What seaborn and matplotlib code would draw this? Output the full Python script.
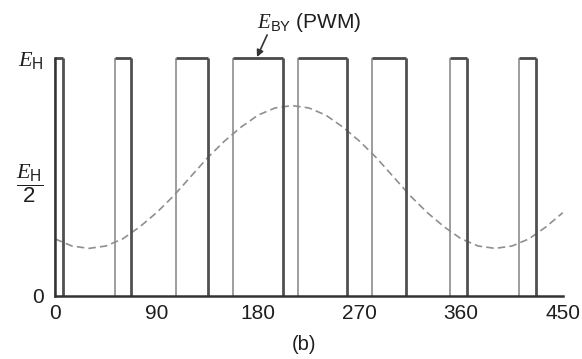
import matplotlib
matplotlib.use("Agg")
import matplotlib.pyplot as plt
import seaborn as sns
import pandas as pd
import numpy as np

# PWM pulse edges (degrees) and level (fraction of E_H)
rise = [0, 53, 107, 158, 215, 281, 350, 411]
fall = [7, 67, 136, 202, 259, 311, 365, 426]
level = 1.0

# Reference (dashed) waveform
ref_x = [0, 15, 30, 45, 60, 75, 90, 105, 120, 135, 150, 165, 180, 195, 210, 225,
         240, 255, 270, 285, 300, 315, 330, 345, 360, 375, 390, 405, 420, 435, 450]
ref_y = [0.24, 0.21, 0.20, 0.21, 0.24, 0.29, 0.35, 0.42, 0.50, 0.58, 0.65, 0.71,
         0.76, 0.79, 0.80, 0.79, 0.76, 0.71, 0.65, 0.58, 0.50, 0.42, 0.35, 0.29,
         0.24, 0.21, 0.20, 0.21, 0.24, 0.29, 0.35]

x_ticks = [0, 90, 180, 270, 360, 450]
y_ticks = [0, 0.5, 1.0]
y_labels = ["0", r"$\dfrac{E_{\mathrm{H}}}{2}$", r"$E_{\mathrm{H}}$"]

sns.set_style("white")
plt.rcParams["font.family"] = ["Liberation Sans", "DejaVu Sans"]
plt.rcParams["mathtext.fontset"] = "custom"
plt.rcParams["mathtext.rm"] = "Liberation Sans"
plt.rcParams["mathtext.it"] = "Liberation Serif:italic"
plt.rcParams["mathtext.bf"] = "Liberation Sans:bold"

fig = plt.figure(figsize=(5.82, 3.59), dpi=100)
ax = fig.add_axes([0.0945, 0.1755, 0.8725, 0.663])

df = pd.DataFrame({"x": ref_x, "y": ref_y})
sns.lineplot(data=df, x="x", y="y", ax=ax, color="#8f8f8f", lw=1.2,
             linestyle=(0, (4.5, 2.5)), clip_on=False)

# pulses
ax.vlines(rise, 0, level, color="#8c8c8c", lw=1.2, clip_on=False)
ax.vlines(fall, 0, level, color="#505050", lw=2.0, clip_on=False)
ax.hlines([level] * len(rise), rise, fall, color="#4a4a4a", lw=2.0, clip_on=False)

ax.set_xlim(0, 450)
ax.set_ylim(0, 1.0)
ax.set_xlabel("")
ax.set_ylabel("")

for s in ["top", "right"]:
    ax.spines[s].set_visible(False)
for s in ["left", "bottom"]:
    ax.spines[s].set_color("#333333")
    ax.spines[s].set_linewidth(1.8)

ax.set_xticks(x_ticks)
ax.set_xticklabels([str(t) for t in x_ticks], fontsize=15, color="#1e1e1e")
ax.tick_params(axis="x", direction="inout", length=8, width=1, color="#555555", pad=1.5)

ax.set_yticks(y_ticks)
ax.set_yticklabels(y_labels, fontsize=16, color="#1e1e1e")
ax.get_yticklabels()[0].set_fontsize(15)
ax.set_yticks(np.arange(0, 1.01, 0.1), minor=True)
ax.tick_params(axis="y", which="major", direction="out", length=6, width=1,
               color="#555555", pad=2)
ax.tick_params(axis="y", which="minor", direction="out", length=6, width=1, color="#555555")

ax.text(179, 1.15, r"$E_{\mathrm{BY}}$ (PWM)", fontsize=15, color="#1e1e1e",
        ha="left", va="center", clip_on=False)
ax.annotate("", xy=(179, 1.004), xytext=(188, 1.097), annotation_clip=False,
            arrowprops=dict(arrowstyle="-|>", color="#333333", lw=1.2,
                            shrinkA=0, shrinkB=0, mutation_scale=10))

fig.text(0.523, 0.039, "(b)", fontsize=14.5, color="#1e1e1e", ha="center", va="center")

fig.savefig("out.png", dpi=100)
